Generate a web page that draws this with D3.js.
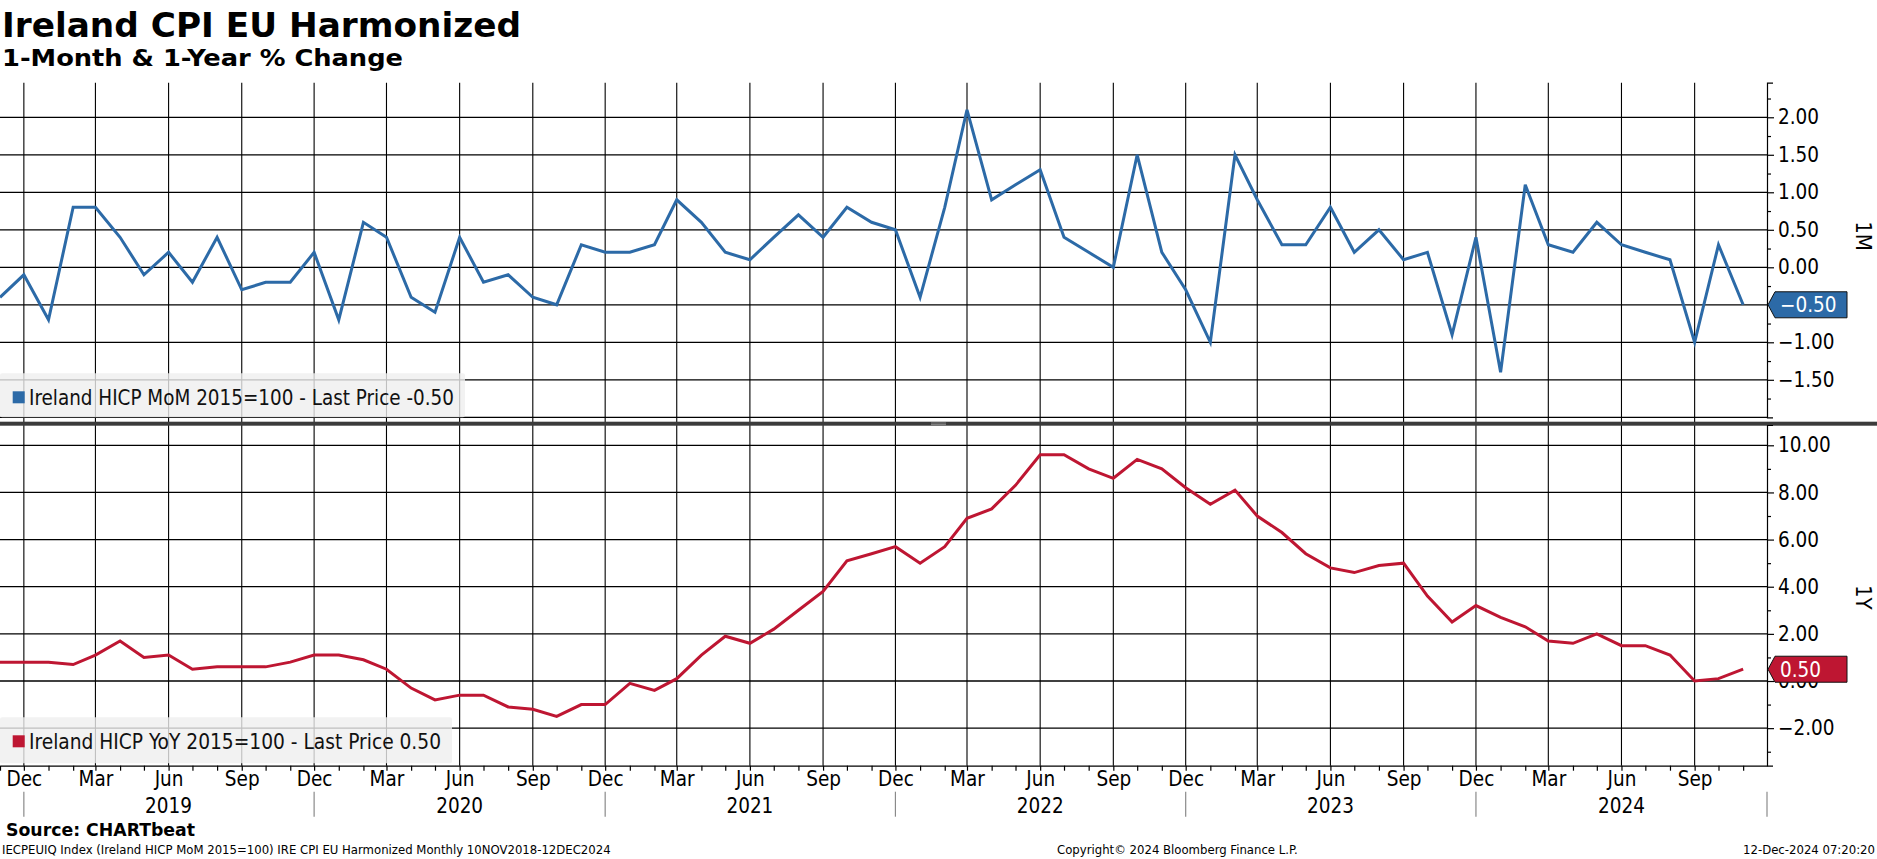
<!DOCTYPE html>
<html>
<head>
<meta charset="utf-8">
<script src="https://cdn.jsdelivr.net/npm/d3@7"></script>
<style>
  body { margin: 0; background: #fff; }
  svg { display: block; font-family: "DejaVu Sans", sans-serif; font-stretch: condensed; }
  .axis text { font-family: "DejaVu Sans", sans-serif; font-stretch: condensed; fill: #000; }
</style>
</head>
<body>
<script>
// monthly observations, Nov 2018 .. Nov 2024
const startMonth = [2018, 10];
const momValues = [
  -0.4, -0.1,
  -0.7, 0.8, 0.8, 0.4, -0.1, 0.2, -0.2, 0.4, -0.3, -0.2, -0.2, 0.2,
  -0.7, 0.6, 0.4, -0.4, -0.6, 0.4, -0.2, -0.1, -0.4, -0.5, 0.3, 0.2,
  0.2, 0.3, 0.9, 0.6, 0.2, 0.1, 0.4, 0.7, 0.4, 0.8, 0.6, 0.5,
  -0.4, 0.8, 2.1, 0.9, 1.1, 1.3, 0.4, 0.2, 0.0, 1.5, 0.2, -0.3,
  -1.0, 1.5, 0.9, 0.3, 0.3, 0.8, 0.2, 0.5, 0.1, 0.2, -0.9, 0.4,
  -1.4, 1.1, 0.3, 0.2, 0.6, 0.3, 0.2, 0.1, -1.0, 0.3, -0.5
];
const yoyValues = [
  0.8, 0.8,
  0.8, 0.7, 1.1, 1.7, 1.0, 1.1, 0.5, 0.6, 0.6, 0.6, 0.8, 1.1,
  1.1, 0.9, 0.5, -0.3, -0.8, -0.6, -0.6, -1.1, -1.2, -1.5, -1.0, -1.0,
  -0.1, -0.4, 0.1, 1.1, 1.9, 1.6, 2.2, 3.0, 3.8, 5.1, 5.4, 5.7,
  5.0, 5.7, 6.9, 7.3, 8.3, 9.6, 9.6, 9.0, 8.6, 9.4, 9.0, 8.2,
  7.5, 8.1, 7.0, 6.3, 5.4, 4.8, 4.6, 4.9, 5.0, 3.6, 2.5, 3.2,
  2.7, 2.3, 1.7, 1.6, 2.0, 1.5, 1.5, 1.1, 0.0, 0.1, 0.5
];

const momTicks = [2, 1.5, 1, 0.5, 0, -0.5, -1, -1.5];
const momGrid = [2, 1.5, 1, 0.5, 0, -0.5, -1, -1.5, -2];
const momMinor = [2.25, 1.75, 1.25, 0.75, 0.25, -0.25, -0.75, -1.25, -1.75];
const yoyTicks = [10, 8, 6, 4, 2, 0, -2];
const yoyMinor = [9, 7, 5, 3, 1, -1, -3];
const quarterNames = { 11: "Dec", 2: "Mar", 5: "Jun", 8: "Sep" };
const years = [2019, 2020, 2021, 2022, 2023, 2024];

const seriesNames = ["Ireland HICP MoM 2015=100", "Ireland HICP YoY 2015=100"];
const panelNames = ["1M", "1Y"];
const titleText = "Ireland CPI EU Harmonized";
const subtitleText = "1-Month & 1-Year % Change";
const sourceText = "Source: CHARTbeat";
const footLeft = "IECPEUIQ Index (Ireland HICP MoM 2015=100) IRE CPI EU Harmonized  Monthly 10NOV2018-12DEC2024";
const footMid = "Copyright\u00a9 2024 Bloomberg Finance L.P.";
const footRight = "12-Dec-2024 07:20:20";

const blue = "#2c6aa7";
const red = "#be1632";

const W = 1877, H = 859;
const plotR = 1767;
const top1 = 82.7, bot1 = 417.3, top2 = 425, bot2 = 765.7;

const start = new Date(Date.UTC(startMonth[0], startMonth[1], 1));
const dates = momValues.map((d, i) => d3.utcMonth.offset(start, i));
const mom = dates.map((d, i) => ({ date: d, value: momValues[i] }));
const yoy = dates.map((d, i) => ({ date: d, value: yoyValues[i] }));

const x = d3.scaleUtc()
  .domain([start, d3.utcMonth.offset(start, 73)])
  .range([0, plotR]);

const yTop = d3.scaleLinear().domain([-2.0, 2.461]).range([bot1, top1]);
const yBot = d3.scaleLinear().domain([-3.593, 10.861]).range([bot2, top2]);

const svg = d3.select("body").append("svg")
  .attr("width", W)
  .attr("height", H);

const months = d3.utcMonth.range(start, d3.utcMonth.offset(start, 73));
const quarters = months.filter(d => d.getUTCMonth() % 3 === 2);

// horizontal grid
svg.append("g").selectAll("line")
  .data(momGrid).join("line")
  .attr("x1", 0).attr("x2", plotR)
  .attr("y1", d => yTop(d)).attr("y2", d => yTop(d))
  .attr("stroke", "#000").attr("stroke-width", 1.3);

svg.append("g").selectAll("line")
  .data(yoyTicks).join("line")
  .attr("x1", 0).attr("x2", plotR)
  .attr("y1", d => yBot(d)).attr("y2", d => yBot(d))
  .attr("stroke", "#000").attr("stroke-width", 1.3);

// vertical grid
svg.append("g").selectAll("line")
  .data(quarters).join("line")
  .attr("x1", d => x(d)).attr("x2", d => x(d))
  .attr("y1", top1).attr("y2", bot2)
  .attr("stroke", "#000").attr("stroke-width", 1.1);

// legends (semi transparent, grid shows through)
function legend(yTopBox, h, w, color, label, len) {
  const g = svg.append("g");
  g.append("rect")
    .attr("x", 0).attr("y", yTopBox)
    .attr("width", w).attr("height", h)
    .attr("rx", 2)
    .attr("fill", "#efefef").attr("fill-opacity", 0.8);
  g.append("rect")
    .attr("x", 12.7).attr("y", yTopBox + 18)
    .attr("width", 12).attr("height", 12)
    .attr("fill", color);
  g.append("text")
    .attr("x", 29).attr("y", yTopBox + 32)
    .attr("font-size", 20.5)
    .attr("fill", "#111")
    .attr("textLength", len).attr("lengthAdjust", "spacingAndGlyphs")
    .text(label);
}
legend(373.3, 44, 465, blue, `${seriesNames[0]} - Last Price ${momValues[momValues.length - 1].toFixed(2)}`, 425);
legend(717.3, 46, 452, red, `${seriesNames[1]} - Last Price ${yoyValues[yoyValues.length - 1].toFixed(2)}`, 412);

// series lines
svg.append("path")
  .datum(mom)
  .attr("fill", "none")
  .attr("stroke", blue)
  .attr("stroke-width", 3)
  .attr("stroke-linejoin", "miter")
  .attr("d", d3.line().x(d => x(d.date)).y(d => yTop(d.value)));

svg.append("path")
  .datum(yoy)
  .attr("fill", "none")
  .attr("stroke", red)
  .attr("stroke-width", 3)
  .attr("stroke-linejoin", "miter")
  .attr("d", d3.line().x(d => x(d.date)).y(d => yBot(d.value)));

// separator bar between panels
svg.append("rect")
  .attr("x", 0).attr("y", 421.7)
  .attr("width", W).attr("height", 4)
  .attr("fill", "#3b3b3b");
svg.append("line")
  .attr("x1", 931).attr("x2", 946).attr("y1", 423).attr("y2", 423)
  .attr("stroke", "#9a9a9a").attr("stroke-width", 0.8);
svg.append("line")
  .attr("x1", 931).attr("x2", 946).attr("y1", 424.6).attr("y2", 424.6)
  .attr("stroke", "#9a9a9a").attr("stroke-width", 0.8);

// right axes
const fmt = d3.format(".2f");
svg.append("g")
  .attr("class", "axis")
  .attr("transform", `translate(${plotR},0)`)
  .call(d3.axisRight(yTop).tickValues(momTicks).tickFormat(fmt).tickSize(7).tickSizeOuter(6).tickPadding(4));
svg.append("g")
  .attr("class", "axis")
  .attr("transform", `translate(${plotR},0)`)
  .call(d3.axisRight(yTop).tickValues(momMinor).tickFormat("").tickSize(4).tickSizeOuter(0))
  .select(".domain").remove();

svg.append("g")
  .attr("class", "axis")
  .attr("transform", `translate(${plotR},0)`)
  .call(d3.axisRight(yBot).tickValues(yoyTicks).tickFormat(fmt).tickSize(7).tickSizeOuter(6).tickPadding(4));
svg.append("g")
  .attr("class", "axis")
  .attr("transform", `translate(${plotR},0)`)
  .call(d3.axisRight(yBot).tickValues(yoyMinor).tickFormat("").tickSize(4).tickSizeOuter(0))
  .select(".domain").remove();

svg.selectAll(".axis text").attr("font-size", 20.5);
svg.selectAll(".axis path, .axis line").attr("stroke", "#000").attr("stroke-width", 1.2);

// panel names
[[panelNames[0], (top1 + bot1) / 2 - 14], [panelNames[1], (top2 + bot2) / 2 + 2]].forEach(([t, cy]) => {
  svg.append("text")
    .attr("transform", `translate(1856,${cy}) rotate(90)`)
    .attr("text-anchor", "middle")
    .attr("font-size", 22)
    .text(t);
});

// last value tags
function tag(yPos, color, label) {
  const h = 26, x0 = plotR + 1, xb = plotR + 8, x1 = 1847;
  svg.append("path")
    .attr("d", `M${x0},${yPos} L${xb},${yPos - h / 2} L${x1},${yPos - h / 2} L${x1},${yPos + h / 2} L${xb},${yPos + h / 2} Z`)
    .attr("fill", color)
    .attr("stroke", "#111")
    .attr("stroke-width", 1);
  svg.append("text")
    .attr("x", plotR + 13).attr("y", yPos + 7.5)
    .attr("font-size", 20.5)
    .attr("fill", "#fff")
    .text(label);
}
tag(yTop(momValues[momValues.length - 1]), blue, fmt(momValues[momValues.length - 1]));
tag(yBot(yoyValues[yoyValues.length - 1]), red, fmt(yoyValues[yoyValues.length - 1]));

// bottom time axis
const axX = svg.append("g")
  .attr("class", "axis")
  .attr("transform", `translate(0,${bot2})`)
  .call(d3.axisBottom(x).tickValues(months).tickFormat("").tickSize(5).tickSizeOuter(0));
axX.selectAll("path, line").attr("stroke", "#000").attr("stroke-width", 1.2);

const axQ = svg.append("g")
  .attr("class", "axis")
  .attr("transform", `translate(0,${bot2})`)
  .call(d3.axisBottom(x).tickValues(quarters).tickFormat(d => quarterNames[d.getUTCMonth()]).tickSize(0).tickPadding(6));
axQ.select(".domain").remove();
axQ.selectAll("text").attr("font-size", 20.5);

// year separators and labels
const yearEdges = years.map(y => new Date(Date.UTC(y - 1, 11, 1)));
svg.append("g").selectAll("line")
  .data(yearEdges).join("line")
  .attr("x1", d => x(d)).attr("x2", d => x(d))
  .attr("y1", 791.7).attr("y2", 816.7)
  .attr("stroke", "#8a8a8a").attr("stroke-width", 1.2);
svg.append("line")
  .attr("x1", plotR).attr("x2", plotR)
  .attr("y1", 791.7).attr("y2", 816.7)
  .attr("stroke", "#8a8a8a").attr("stroke-width", 1.2);

svg.append("g").selectAll("text")
  .data(years).join("text")
  .attr("x", y => x(new Date(Date.UTC(y, 5, 1))))
  .attr("y", 812.7)
  .attr("text-anchor", "middle")
  .attr("font-size", 20.5)
  .text(y => y);

// titles
svg.append("text")
  .attr("x", 2).attr("y", 36.7)
  .attr("font-size", 34).attr("font-weight", "bold")
  .attr("textLength", 519).attr("lengthAdjust", "spacingAndGlyphs")
  .text(titleText);
svg.append("text")
  .attr("x", 2).attr("y", 65.7)
  .attr("font-size", 23).attr("font-weight", "bold")
  .attr("textLength", 401).attr("lengthAdjust", "spacingAndGlyphs")
  .text(subtitleText);

// footer
svg.append("text")
  .attr("x", 6).attr("y", 836)
  .attr("font-size", 18).attr("font-weight", "bold")
  .attr("textLength", 189).attr("lengthAdjust", "spacingAndGlyphs")
  .text(sourceText);
svg.append("text")
  .attr("x", 2).attr("y", 854)
  .attr("font-size", 13)
  .text(footLeft);
svg.append("text")
  .attr("x", 1057).attr("y", 854)
  .attr("font-size", 13)
  .text(footMid);
svg.append("text")
  .attr("x", 1875).attr("y", 854)
  .attr("font-size", 13)
  .attr("text-anchor", "end")
  .text(footRight);
</script>
</body>
</html>
